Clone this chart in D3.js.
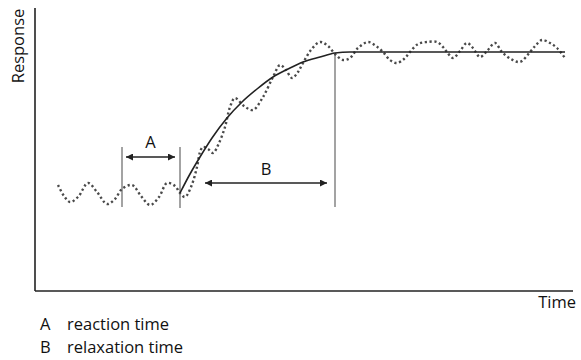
<!DOCTYPE html>
<html><head><meta charset="utf-8">
<script src="https://cdn.jsdelivr.net/npm/d3@7"></script>
<style>body{margin:0;background:#fff}svg{display:block}text{font-family:"Open Sans",sans-serif;fill:#111}</style>
</head><body>
<script>
// time (arbitrary units) and response (arbitrary units)
const dottedTime = [23,29,35,43,53,62,72,80,87,97,106,115,124,132,140,145,150,156,162,165,168,173,178,184,190,195,200,209,218,228,238,245,251,257,263,268,276,285,293,300,308,315,323,333,341,348,355,362,369,375,383,392,402,408,412,418,425,432,438,445,452,460,467,476,485,495,501,507,515,522,530];
const dottedResp = [106,95,89,94,108,99,87,92,102,106,95,86,94,108,105,98,94,104,124,139,144,142,138,148,164,184,193,185,181,194,214,226,221,213,219,228,241,249,245,237,231,233,243,249,245,239,231,228,232,239,247,249,249,244,239,233,240,248,243,234,240,248,239,232,229,239,246,251,248,243,233];
const solidTime = [145,155,165,177,192,207,222,238,253,268,285,300,315,530];
const solidResp = [98,117,134,153,173,189,202,214,222,229,234,238,239,239];
const markTime = [87,145,300];           // vertical markers
const markTop = [144,144,237];
const markBottom = [84,83,84];
const spans = [{label:"A", from:91, to:140, resp:134, labelResp:143},
               {label:"B", from:170, to:292, resp:108, labelResp:116}];
const legendKeys = ["A","B"];
const legendTexts = ["reaction time","relaxation time"];
const axisTitles = {x:"Time", y:"Response"};

const W=581,H=360;
const svg=d3.select("body").append("svg").attr("width",W).attr("height",H);
const x=d3.scaleLinear().domain([0,538]).range([35,573]);
const y=d3.scaleLinear().domain([0,283]).range([291,8]);
const FS=16.5;

const defs=svg.append("defs");
defs.append("marker").attr("id","ah").attr("viewBox","0 0 10 10").attr("refX",10).attr("refY",5)
  .attr("markerWidth",7).attr("markerHeight",7).attr("orient","auto-start-reverse").attr("markerUnits","userSpaceOnUse")
  .append("path").attr("d","M0,0 L10,5 L0,10 Z").attr("fill","#222");

// axes
svg.append("line").attr("x1",x(0)).attr("x2",x(0)).attr("y1",y(283)).attr("y2",y(0)).attr("stroke","#222").attr("stroke-width",1.6);
svg.append("line").attr("x1",x(0)).attr("x2",x(538)).attr("y1",y(0)).attr("y2",y(0)).attr("stroke","#222").attr("stroke-width",1.6);
svg.append("text").attr("transform",`translate(24,${46}) rotate(-90)`).attr("text-anchor","middle").attr("font-size",FS).text(axisTitles.y);
svg.append("text").attr("x",576).attr("y",308).attr("text-anchor","end").attr("font-size",FS).text(axisTitles.x);

// vertical markers
svg.selectAll(".mk").data(markTime).enter().append("line")
  .attr("x1",d=>x(d)).attr("x2",d=>x(d)).attr("y1",(d,i)=>y(markTop[i])).attr("y2",(d,i)=>y(markBottom[i]))
  .attr("stroke","#666").attr("stroke-width",1.2);

// dotted response
const dpts=dottedTime.map((t,i)=>[t,dottedResp[i]]);
svg.append("path").datum(dpts).attr("fill","none").attr("stroke","#4a4a4a").attr("stroke-width",2.4)
  .attr("stroke-dasharray","2.2,2.6")
  .attr("d",d3.line().x(d=>x(d[0])).y(d=>y(d[1])).curve(d3.curveCatmullRom.alpha(0.5)));

// solid curve
const spts=solidTime.map((t,i)=>[t,solidResp[i]]);
svg.append("path").datum(spts).attr("fill","none").attr("stroke","#222").attr("stroke-width",1.6)
  .attr("d",d3.line().x(d=>x(d[0])).y(d=>y(d[1])).curve(d3.curveMonotoneX));

// span arrows
spans.forEach(s=>{
  svg.append("line").attr("x1",x(s.from)).attr("x2",x(s.to)).attr("y1",y(s.resp)).attr("y2",y(s.resp))
    .attr("stroke","#222").attr("stroke-width",1.4).attr("marker-start","url(#ah)").attr("marker-end","url(#ah)");
  svg.append("text").attr("x",x((s.from+s.to)/2)).attr("y",y(s.labelResp)).attr("text-anchor","middle").attr("font-size",FS).text(s.label);
});

// legend
legendKeys.forEach((k,i)=>{
  svg.append("text").attr("x",40).attr("y",330+i*23).attr("font-size",FS).text(k);
  svg.append("text").attr("x",67).attr("y",330+i*23).attr("font-size",FS).text(legendTexts[i]);
});
</script>
</body></html>
